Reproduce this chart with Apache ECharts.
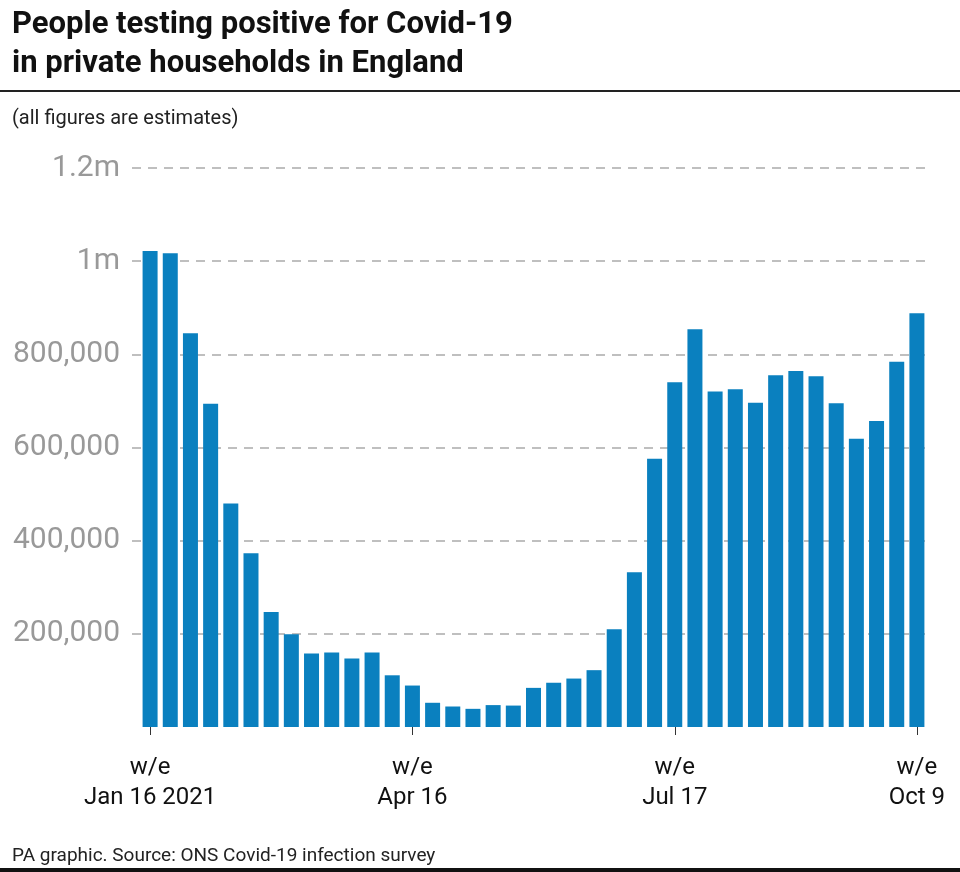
<!DOCTYPE html>
<html>
<head>
<meta charset="utf-8">
<script src="https://cdn.jsdelivr.net/npm/echarts@6/dist/echarts.min.js"></script>
<style>
  html, body { margin: 0; padding: 0; background: #fff; }
  #chart { width: 960px; height: 872px; }
</style>
</head>
<body>
<div id="chart"></div>
<script>
// week ending dates (2021)
const weeks = [
  'Jan 16 2021', 'Jan 23', 'Jan 30', 'Feb 6', 'Feb 13', 'Feb 20', 'Feb 27',
  'Mar 6', 'Mar 13', 'Mar 20', 'Mar 27', 'Apr 3', 'Apr 10', 'Apr 16',
  'Apr 24', 'May 1', 'May 8', 'May 15', 'May 22', 'May 29', 'Jun 5',
  'Jun 12', 'Jun 19', 'Jun 26', 'Jul 3', 'Jul 10', 'Jul 17', 'Jul 24',
  'Jul 31', 'Aug 7', 'Aug 14', 'Aug 21', 'Aug 28', 'Sep 4', 'Sep 11',
  'Sep 18', 'Sep 25', 'Oct 2', 'Oct 9'
];
// estimated people testing positive
const positives = [
  1022000, 1017000, 845000, 694000, 480000, 373000, 247000,
  199000, 158000, 160000, 147000, 160000, 111000, 89000,
  52000, 44000, 39000, 47000, 46000, 84000, 95000,
  104000, 122000, 210000, 332000, 576000, 740000, 854000,
  720000, 725000, 696000, 755000, 764000, 753000, 695000,
  619000, 657000, 784000, 888000
];
// labelled weeks on the x axis
const labelledWeeks = [0, 13, 26, 38];
const xTickLabels = ['w/e\nJan 16 2021', 'w/e\nApr 16', 'w/e\nJul 17', 'w/e\nOct 9'];
// y axis
const yTicks = [0, 200000, 400000, 600000, 800000, 1000000, 1200000];
const yTickLabels = ['', '200,000', '400,000', '600,000', '800,000', '1m', '1.2m'];

const FONT = 'Roboto, "Liberation Sans", sans-serif';
const chart = echarts.init(document.getElementById('chart'), null, { renderer: 'canvas' });

const option = {
  backgroundColor: '#fff',
  animation: false,
  textStyle: { fontFamily: FONT },
  title: [
    {
      text: 'People testing positive for Covid-19\nin private households in England',
      left: 7, top: 1,
      textStyle: { fontFamily: FONT, fontSize: 31, fontWeight: 'bold', color: '#111', lineHeight: 39 }
    },
    {
      text: '(all figures are estimates)',
      left: 7, top: 104,
      textStyle: { fontFamily: FONT, fontSize: 20, fontWeight: 'normal', color: '#222' }
    },
    {
      text: 'PA graphic. Source: ONS Covid-19 infection survey',
      left: 7, top: 842,
      textStyle: { fontFamily: FONT, fontSize: 19, fontWeight: 'normal', color: '#222' }
    }
  ],
  graphic: [
    { type: 'rect', shape: { x: 0, y: 90, width: 960, height: 2 }, style: { fill: '#222' } },
    { type: 'rect', shape: { x: 0, y: 868, width: 960, height: 4 }, style: { fill: '#111' } }
  ],
  grid: [
    // grid for the dashed gridlines and y labels
    { left: 132, right: 30, top: 168, bottom: 145 },
    // grid for the bars
    { left: 140, right: 33, top: 168, bottom: 145 }
  ],
  xAxis: [
    { gridIndex: 0, type: 'value', show: false, min: 0, max: 1 },
    {
      gridIndex: 1,
      type: 'category',
      data: weeks,
      offset: 11,
      axisLine: { show: false },
      axisTick: {
        show: true,
        alignWithLabel: true,
        length: 8,
        interval: (i) => labelledWeeks.includes(i),
        lineStyle: { color: '#333', width: 1 }
      },
      axisLabel: {
        interval: (i) => labelledWeeks.includes(i),
        formatter: (v, i) => xTickLabels[labelledWeeks.indexOf(i)] || '',
        margin: 15,
        color: '#111',
        fontSize: 24,
        lineHeight: 30,
        fontFamily: FONT
      }
    }
  ],
  yAxis: [
    {
      gridIndex: 0,
      type: 'value',
      min: yTicks[0],
      max: yTicks[yTicks.length - 1],
      interval: yTicks[1] - yTicks[0],
      axisLine: { show: false },
      axisTick: { show: false },
      axisLabel: {
        margin: 12,
        color: '#999',
        fontSize: 30,
        fontFamily: FONT,
        formatter: (v) => yTickLabels[yTicks.indexOf(v)]
      },
      splitLine: {
        show: true,
        showMinLine: false,
        lineStyle: { color: '#aaa', width: 1.5, type: [9, 7] }
      }
    },
    {
      gridIndex: 1,
      type: 'value',
      min: yTicks[0],
      max: yTicks[yTicks.length - 1],
      interval: yTicks[1] - yTicks[0],
      show: false,
      splitLine: { show: false }
    }
  ],
  series: [
    {
      type: 'bar',
      xAxisIndex: 1,
      yAxisIndex: 1,
      data: positives,
      barWidth: 15,
      itemStyle: { color: '#0a80bf' },
      z: 3
    }
  ]
};

chart.setOption(option);
</script>
</body>
</html>
